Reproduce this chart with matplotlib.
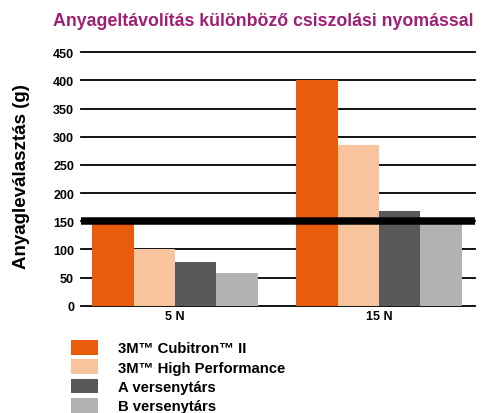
import numpy as np
import matplotlib.pyplot as plt
from matplotlib.patches import Patch

plt.rcParams['font.family'] = ['Liberation Sans', 'DejaVu Sans']
plt.rcParams['font.weight'] = 'bold'

groups = ['5 N', '15 N']
series = ['3M\u2122 Cubitron\u2122 II', '3M\u2122 High Performance', 'A versenytárs', 'B versenytárs']
values = [[145, 400],
          [100, 285],
          [78, 168],
          [58, 148]]
colors = ['#E95C0C', '#F8C49E', '#595959', '#B2B2B2']
yticks = np.arange(0, 451, 50)

fig = plt.figure(figsize=(4.87, 4.14), dpi=100)
ax = fig.add_axes([0.1663, 0.2592, 0.809, 0.6121])

x = np.arange(len(groups))
w = 0.203
for ii, (vals, col) in enumerate(zip(values, colors)):
    ax.bar(x + (ii - 1.5) * w, vals, width=w, color=col, zorder=2, label=series[ii])

# gridlines behind bars
for t in yticks:
    ax.axhline(t, color='black', lw=1.3, zorder=1, clip_on=False)
# thick reference line at 150
ax.axhline(150, color='black', lw=5.4, zorder=3)

ax.set_xlim(-0.461, 1.471)
ax.set_ylim(0, 450)
ax.set_yticks(yticks)
ax.set_yticklabels([str(t) for t in yticks], fontsize=9, fontweight='bold')
ax.set_xticks(x)
ax.set_xticklabels(groups, fontsize=9, fontweight='bold')
ax.tick_params(axis='y', length=0, pad=5)
ax.tick_params(axis='x', length=0, pad=3)
for s in ax.spines.values():
    s.set_visible(False)

fig.text(53 / 487, 1 - 21 / 414, 'Anyageltávolítás különböző csiszolási nyomással',
         fontsize=12.8, fontweight='bold', color='#9E1F73', ha='left', va='center')
fig.text(22 / 487, 1 - 176.5 / 414, 'Anyagleválasztás (g)', rotation=90,
         fontsize=13.5, fontweight='bold', ha='center', va='center')

handles = [Patch(facecolor=c, edgecolor='none') for c in colors]
fig.legend(handles, series, loc='upper left', bbox_to_anchor=(71 / 487, 1 - 341 / 414),
           frameon=False, borderpad=0, borderaxespad=0,
           handlelength=1.81, handleheight=1.14, labelspacing=0.27, handletextpad=1.34,
           prop={'weight': 'bold', 'size': 10.7})

fig.savefig('out.png', dpi=100)
